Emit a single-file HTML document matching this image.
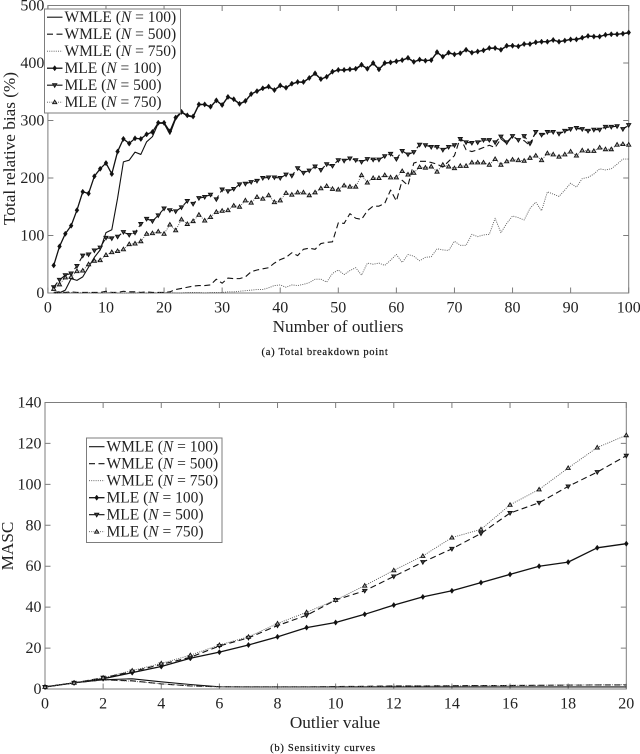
<!DOCTYPE html>
<html>
<head>
<meta charset="utf-8">
<style>
html,body{margin:0;padding:0;background:#fff;}
svg{display:block;filter:blur(0.3px);}
text{font-family:"Liberation Serif",serif;fill:#222;}
.tick{font-size:16px;}
.title{font-size:17.2px;}
.leg{font-size:15.5px;}
.cap{font-size:10.5px;letter-spacing:.72px;font-weight:normal;fill:#111;stroke:#111;stroke-width:.2px;}
</style>
</head>
<body>
<svg id="figure" width="640" height="754" viewBox="0 0 640 754" xmlns="http://www.w3.org/2000/svg">
  <text class="title" x="338" y="332" text-anchor="middle">Number of outliers</text>
  <text class="title" transform="translate(15,148.5) rotate(-90)" text-anchor="middle">Total relative bias (%)</text>
  <text class="cap" x="325" y="355" text-anchor="middle">(a) Total breakdown point</text>
  <text class="title" x="335" y="728" text-anchor="middle">Outlier value</text>
  <text class="title" transform="translate(13,546) rotate(-90)" text-anchor="middle">MASC</text>
  <text class="cap" x="323" y="751" text-anchor="middle">(b) Sensitivity curves</text>
  <g id="plots"></g>
  <g id="legends"></g>
</svg>
<script>
// ---- Panel (a) data: total relative bias vs number of outliers ----
const outliersA = [];
for (let i = 1; i <= 100; i++) outliersA.push(i);
const xTicksA = [0,10,20,30,40,50,60,70,80,90,100];
const xTickLabelsA = ["0","10","20","30","40","50","60","70","80","90","100"];
const yTicksA = [0,100,200,300,400,500];
const yTickLabelsA = ["0","100","200","300","400","500"];
const wmle100A = [0,0.5,5,25,22,28,45,62,75,105,110,165,228,231,245,241,263,272,295,295,276,303,314,308,306,327,328,323,335,326,341,336,329,333,346,351,355,358,353,360,357,363,367,366,374,381,372,376,384,388,387,389,389,396,390,399,389,399,401,403,405,408,402,405,404,405,418,411,417,415,417,423,418,420,422,425,426,423,429,430,429,433,433,436,437,437,440,437,439,441,441,443,447,446,446,449,450,450,451,452];
const wmle500A = [1,2,1,2,1,1,1,1,1,3,1,1,3,2,2,1,2,1,1,1,2,6,8,10,12,13,13,14,24,17,26,25,25,28,37,40,42,44,52,58,62,70,65,76,78,76,86,88,89,122,121,138,130,128,143,151,151,156,179,160,196,187,226,229,229,227,224,219,229,239,270,249,246,249,253,257,253,268,260,273,266,265,256,280,274,279,281,277,281,285,286,285,282,284,285,288,289,290,286,291];
const wmle750A = [0,0,0,1,1,0,1,0,0,1,1,0,0,0,0,1,0,0,1,1,1,0,0,1,1,1,0,1,1,1,2,2,3,4,5,6,6,9,13,14,10,14,13,15,18,24,24,19,34,40,32,39,44,31,52,50,52,48,57,67,53,67,64,56,62,63,77,75,74,90,83,83,102,98,101,102,130,105,121,134,131,127,147,158,143,176,172,168,179,191,184,199,201,207,216,214,216,224,233,233];
const mle100A = [48,81,103,117,144,176,173,203,216,226,207,246,268,260,269,268,276,280,296,296,281,305,315,309,307,328,328,324,335,327,341,337,329,334,346,351,356,359,353,361,357,364,367,367,374,382,372,376,385,388,388,389,390,397,390,400,389,400,401,403,405,409,402,406,404,405,419,411,418,415,417,423,418,420,422,426,426,423,430,430,429,433,433,436,437,437,440,437,439,441,441,444,447,446,446,449,450,450,451,453];
const mle500A = [10,23,31,34,47,65,67,74,79,96,95,98,106,101,105,120,129,125,135,147,144,142,149,160,155,165,167,171,163,180,177,181,189,190,193,195,200,201,201,200,206,204,217,209,213,220,214,224,221,231,230,234,231,228,233,232,232,238,242,233,247,241,245,258,257,254,254,249,254,257,268,262,261,262,266,266,262,272,262,273,266,273,260,280,275,280,280,277,282,285,287,285,282,284,284,289,289,290,285,292];
const mle750A = [7,15,27,28,38,39,50,56,57,66,71,73,76,85,86,90,103,104,107,103,119,109,128,120,125,136,126,132,141,143,144,152,150,161,157,167,164,170,158,161,174,171,175,175,170,175,182,186,181,180,187,185,185,205,192,200,200,205,201,201,212,206,209,219,218,220,211,223,220,217,221,221,227,227,227,223,233,223,229,232,231,230,235,239,231,243,241,237,241,246,239,248,247,247,253,250,250,258,259,258];

// ---- Panel (b) data: MASC vs outlier value ----
const outliersB = [0,1,2,3,4,5,6,7,8,9,10,11,12,13,14,15,16,17,18,19,20];
const xTicksB = [0,2,4,6,8,10,12,14,16,18,20];
const xTickLabelsB = ["0","2","4","6","8","10","12","14","16","18","20"];
const yTicksB = [0,20,40,60,80,100,120,140];
const yTickLabelsB = ["0","20","40","60","80","100","120","140"];
const wmle100B = [1,3,4.5,5,3.5,2.2,1.1,1,1,1,1,1,1,1,1,1,1,1,1,1,1];
const wmle500B = [1,3,4.5,4,2.5,1.5,1.1,1,1,1,1.2,1.3,1.5,1.5,1.6,1.7,1.7,1.8,1.9,2,2];
const wmle750B = [1,3,4.4,3.8,2.6,1.5,1,1,1,1,1.1,1.2,1.4,1.5,1.5,1.6,1.8,1.8,2,2,2.1];
const mle100B = [1,3,5,8,11,15,18,21.5,25.5,30,32.5,36.5,41,45,48,52,56,60,62,69,71];
const mle500B = [1,3,5.5,8.5,12,15.5,21,25,31,36,43.5,48,55,62,68.5,76,86,91,99,106,114];
const mle750B = [1,3,5.5,9,12.5,16.5,21.5,25.5,32,37.5,43.5,50.5,58,65,74,78,90,97.5,108,118,124];

const legendLabels = ["WMLE","WMLE","WMLE","MLE","MLE","MLE"];
const legendSizes = ["100","500","750","100","500","750"];

const NS = "http://www.w3.org/2000/svg";
const plots = document.getElementById("plots");
const legends = document.getElementById("legends");
const FRAME = "#7d7d7d";
const STYLES = [
  {dash:"", width:1.1, color:"#111", marker:null, key:"wmle-100"},
  {dash:"6 3.5", width:1.1, color:"#111", marker:null, key:"wmle-500"},
  {dash:"1 1.2", width:0.9, color:"#555", marker:null, key:"wmle-750"},
  {dash:"", width:1.3, color:"#111", marker:"diamond", key:"mle-100"},
  {dash:"6 3.5", width:1.1, color:"#111", marker:"down", key:"mle-500"},
  {dash:"1 1.2", width:0.9, color:"#555", marker:"up", key:"mle-750"}
];

function make(tag, attrs, parent) {
  const el = document.createElementNS(NS, tag);
  for (const k in attrs) el.setAttribute(k, attrs[k]);
  parent.appendChild(el);
  return el;
}

function drawMarker(kind, x, y, parent) {
  let el;
  if (kind === "diamond") {
    el = make("polygon", {points:`${x},${y-2.7} ${x+2},${y} ${x},${y+2.7} ${x-2},${y}`, fill:"#111", stroke:"#111", "stroke-width":0.4}, parent);
  } else if (kind === "down") {
    el = make("polygon", {points:`${x-2.1},${y-1.5} ${x+2.1},${y-1.5} ${x},${y+2.1}`, fill:"#444", stroke:"#111", "stroke-width":0.9}, parent);
  } else {
    el = make("polygon", {points:`${x-2.1},${y+1.5} ${x+2.1},${y+1.5} ${x},${y-2.1}`, fill:"#aaa", stroke:"#111", "stroke-width":0.9}, parent);
  }
  
  
}

function drawPanel(cfg) {
  const g = make("g", {}, plots);
  
  
  const sx = v => cfg.left + (v - cfg.xMin) / (cfg.xMax - cfg.xMin) * (cfg.right - cfg.left);
  const sy = v => cfg.bottom - (v - cfg.yMin) / (cfg.yMax - cfg.yMin) * (cfg.bottom - cfg.top);

  const frame = make("rect", {x:cfg.left, y:cfg.top, width:cfg.right-cfg.left, height:cfg.bottom-cfg.top, fill:"none", stroke:FRAME, "stroke-width":1}, g);
  
  

  cfg.xTicks.forEach((t, i) => {
    const x = sx(t);
    const tick = make("path", {d:`M${x} ${cfg.bottom}v-5.5M${x} ${cfg.top}v5.5`, stroke:FRAME, "stroke-width":1, fill:"none"}, g);
    
    
    const label = make("text", {x:x, y:cfg.bottom + 19.5, "text-anchor":"middle", class:"tick"}, g);
    label.textContent = cfg.xLabels[i];
    
    
  });
  cfg.yTicks.forEach((t, i) => {
    const y = sy(t);
    const tick = make("path", {d:`M${cfg.left} ${y}h5.5M${cfg.right} ${y}h-5.5`, stroke:FRAME, "stroke-width":1, fill:"none"}, g);
    
    
    const label = make("text", {x:cfg.left - 3.5, y:y + 5, "text-anchor":"end", class:"tick"}, g);
    label.textContent = cfg.yLabels[i];
    
    
  });

  cfg.series.forEach((values, s) => {
    const st = STYLES[s];
    const sg = make("g", {}, g);
    
    
    const pts = values.map((v, i) => sx(cfg.xs[i]).toFixed(2) + "," + sy(v).toFixed(2)).join(" ");
    const attrs = {points:pts, fill:"none", stroke:st.color, "stroke-width":st.width, "stroke-linejoin":"round"};
    if (st.dash) attrs["stroke-dasharray"] = st.dash;
    const line = make("polyline", attrs, sg);
    
    
    if (st.marker) {
      values.forEach((v, i) => drawMarker(st.marker, sx(cfg.xs[i]), sy(v), sg));
    }
  });
}

function drawLegend(id, x, y, w, h, rowStart, rowStep) {
  const g = make("g", {}, legends);
  
  
  const box = make("rect", {x:x, y:y, width:w, height:h, fill:"#fff", stroke:FRAME, "stroke-width":1}, g);
  
  
  legendLabels.forEach((name, i) => {
    const st = STYLES[i];
    const cy = rowStart + i * rowStep;
    const row = make("g", {}, g);
    
    
    const attrs = {x1:x + 2.5, x2:x + 18, y1:cy, y2:cy, stroke:st.color, "stroke-width":st.width};
    if (st.dash) attrs["stroke-dasharray"] = st.dash;
    make("line", attrs, row);
    if (st.marker) drawMarker(st.marker, x + 10.2, cy, row);
    const t = make("text", {x:x + 20, y:cy + 5, class:"leg"}, row);
    t.appendChild(document.createTextNode(name + " ("));
    const n = make("tspan", {"font-style":"italic"}, t);
    n.textContent = "N";
    t.appendChild(document.createTextNode(" = " + legendSizes[i] + ")"));
  });
}

drawPanel({
  id:"a", left:47.9, right:628.7, top:5.5, bottom:293,
  xMin:0, xMax:100, yMin:0, yMax:500,
  xs:outliersA, xTicks:xTicksA, xLabels:xTickLabelsA, yTicks:yTicksA, yLabels:yTickLabelsA,
  series:[wmle100A, wmle500A, wmle750A, mle100A, mle500A, mle750A]
});
drawPanel({
  id:"b", left:45, right:626.3, top:402.5, bottom:689,
  xMin:0, xMax:20, yMin:0, yMax:140,
  xs:outliersB, xTicks:xTicksB, xLabels:xTickLabelsB, yTicks:yTicksB, yLabels:yTickLabelsB,
  series:[wmle100B, wmle500B, wmle750B, mle100B, mle500B, mle750B]
});
drawLegend("a", 44.5, 9, 136, 104, 17.2, 17);
drawLegend("b", 86.5, 438, 135.5, 104.5, 446.7, 17);
</script>
</body>
</html>
